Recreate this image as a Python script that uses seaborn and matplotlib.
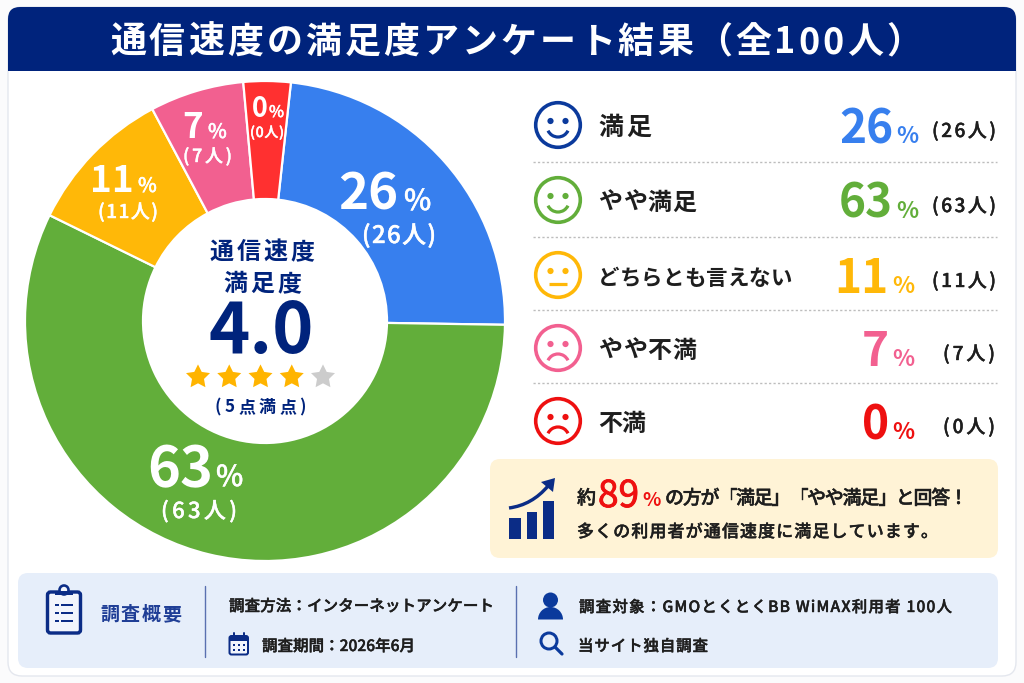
import matplotlib
matplotlib.use("Agg")
import matplotlib.pyplot as plt
import matplotlib.patheffects as pe
import seaborn as sns
import numpy as np
from matplotlib import font_manager as fm
from matplotlib.font_manager import FontProperties, get_font
from matplotlib.ft2font import LoadFlags
from matplotlib.patches import FancyBboxPatch, Circle, Arc, Rectangle, Polygon, PathPatch, Wedge
from matplotlib.path import Path

# Survey results
categories = ["満足", "やや満足", "どちらとも言えない", "やや不満", "不満"]
percentages = [26, 63, 11, 7, 0]
respondents = [26, 63, 11, 7, 0]
# A zero answer still keeps a thin wedge so the category stays visible on the ring
minimum_wedge = 3.5
average_score = 4.0
stars_filled = 4
stars_total = 5
satisfied_total = 89

hex_colors = ["#377FEE", "#62AE3A", "#FFB808", "#F26090", "#FF3030"]
row_colors = ["#377FEE", "#62AE3A", "#FFB808", "#F26090", "#EE1010"]
face_colors = ["#0B3A9C", "#62AE3A", "#FFB808", "#F26090", "#EE1010"]
NAVY = "#00237C"
INK = "#1E1E1E"

sns.set_theme(style="white")
palette = sns.color_palette(hex_colors)
CJK = "Noto Sans CJK JP"
plt.rcParams["font.family"] = [CJK, "DejaVu Sans"]

W, H = 1024, 683
fig = plt.figure(figsize=(W / 100, H / 100), dpi=100, facecolor="#FBFBFC")


def px(size):
    return size * 0.72


back = fig.add_axes([0, 0, 1, 1], zorder=0)
back.set_xlim(0, W)
back.set_ylim(H, 0)
back.axis("off")

front = fig.add_axes([0, 0, 1, 1], zorder=5)
front.set_xlim(0, W)
front.set_ylim(H, 0)
front.axis("off")
front.patch.set_alpha(0)


def rounded(ax, x0, y0, x1, y1, r, face, edge="none", lw=0, z=1):
    patch = FancyBboxPatch((x0, y0), x1 - x0, y1 - y0,
                           boxstyle=f"round,pad=0,rounding_size={r}",
                           facecolor=face, edgecolor=edge, linewidth=lw, zorder=z)
    ax.add_patch(patch)
    return patch


def advance(ch, size, weight):
    font = get_font(fm.findfont(FontProperties(family=CJK, weight=weight)))
    font.set_size(px(size), 100)
    glyph = font.load_char(ord(ch), flags=LoadFlags.NO_HINTING)
    return glyph.linearHoriAdvance / 65536


def spaced(x0, x1, base, s, size, color=INK, weight="medium", ax=None):
    """Set a string glyph by glyph so it fills the span x0..x1.

    The medium weight is the regular face with a hairline outline.
    """
    ax = ax or front
    widths = [advance(c, size, weight) for c in s]
    gap = (x1 - x0 - sum(widths)) / max(len(s) - 1, 1)
    x = x0
    effects = [pe.withStroke(linewidth=0.3, foreground=color)] if weight == "medium" else None
    for c, w in zip(s, widths):
        ax.text(x, base, c, fontsize=px(size), color=color, weight=weight,
                ha="left", va="baseline", zorder=10, path_effects=effects)
        x += w + gap


# Page card and header band
rounded(back, 8, 7, 1016, 676, 14, "white", "#E4E7EE", 1.0)
rounded(back, 8, 7, 1016, 50, 12, NAVY, z=2)
back.add_patch(Rectangle((8, 30), 1008, 41, color=NAVY, lw=0, zorder=2))
spaced(110, 922, 53, "通信速度の満足度アンケート結果（全100人）", 36, "white", "bold")

# Donut
cx, cy, R, r_in = 265, 321, 240, 122
pie_ax = fig.add_axes([(cx - R) / W, 1 - (cy + R) / H, 2 * R / W, 2 * R / H], zorder=2)
wedge_sizes = [max(p, minimum_wedge) for p in percentages]
pie_ax.pie(wedge_sizes, colors=palette, startangle=83.8, counterclock=False, radius=1,
           wedgeprops=dict(width=(R - r_in) / R, edgecolor="white", linewidth=1.6))
pie_ax.set_xlim(-1, 1)
pie_ax.set_ylim(-1, 1)

# Labels on the ring: number right edge, baseline, size; percent size and offset; count span, baseline, size
ring_layout = [
    (398, 210, 51, 29, 6, (362, 436), 243, 24),
    (213, 486, 56, 29, 3, (161, 237), 518, 22),
    (134, 192, 37, 20, 4, (98, 158), 218, 19),
    (203, 138, 35, 20, 5, (183, 232), 162, 18),
    (268, 117, 27, 16, 1, (250, 284), 137, 14),
]
for pct, cnt, lay in zip(percentages, respondents, ring_layout):
    xr, base, s1, s2, off, span, base2, s3 = lay
    front.text(xr, base, str(pct), fontsize=px(s1), color="white", weight="bold",
               ha="right", va="baseline")
    spaced(xr + off, xr + off + s2 * 0.9, base, "%", s2, "white")
    spaced(span[0], span[1], base2, f"({cnt}人)", s3, "white")

# Score in the hole
spaced(210, 314, 259, "通信速度", 24, NAVY, "bold")
spaced(223, 301, 291, "満足度", 24, NAVY, "bold")
front.text(261, 353, f"{average_score:.1f}", fontsize=px(70), color=NAVY, weight="bold",
           ha="center", va="baseline")
star_x = np.linspace(198, 323, stars_total)
star_colors = ["#FFB400" if i < stars_filled else "#CCCCCC" for i in range(stars_total)]
front.scatter(star_x, [377] * stars_total, marker=Path.unit_regular_star(5, innerCircle=0.5),
              s=330, c=star_colors, linewidths=0)
spaced(215, 306, 412, "(5点満点)", 17, NAVY, "bold")

# Answer rows on the right
row_y = [125, 200, 275, 348, 421]
label_end = [651, 696, 792, 696, 645]
label_size = [25, 24, 21.5, 24, 24]
number_end = [893, 893, 889, 889, 889]
count_span = [(932, 996), (932, 996), (932, 996), (943, 995), (943, 995)]
face_mouth = ["smile", "smile", "flat", "frown", "frown"]

for i, (name, pct, cnt) in enumerate(zip(categories, percentages, respondents)):
    y = row_y[i]
    col = face_colors[i]
    front.add_patch(Circle((558, y), 22.3, fill=False, edgecolor=col, lw=px(3.6)))
    for dx in (-7.5, 7.5):
        front.add_patch(Circle((558 + dx, y - 4), 3.1, color=col, lw=0))
    if face_mouth[i] == "smile":
        front.add_patch(Arc((558, y + 1), 22, 22, theta1=25, theta2=155, color=col, lw=px(3.2)))
    elif face_mouth[i] == "frown":
        front.add_patch(Arc((558, y + 17), 22, 22, theta1=205, theta2=335, color=col, lw=px(3.2)))
    else:
        front.plot([549, 567], [y + 9, y + 9], color=col, lw=px(3.2), solid_capstyle="butt")
    spaced(598, label_end[i], y + 10, name, label_size[i], INK, "bold")
    xe = number_end[i]
    front.text(xe, y + 18, str(pct), fontsize=px(46), color=row_colors[i], weight="bold",
               ha="right", va="baseline")
    front.text(xe + 3, y + 18, "%", fontsize=px(23), color=row_colors[i], weight="bold",
               ha="left", va="baseline")
    spaced(count_span[i][0], count_span[i][1], y + 12, f"({cnt}人)", 19, INK)

for y in [162, 237, 310, 383]:
    front.plot([533, 997], [y, y], color="#BDBDBD", lw=1.0, ls=(0, (1.6, 1.6)))

# Highlight panel
rounded(back, 490, 459, 998, 558, 10, "#FFF3D6")
for x0, x1, top in [(509, 521, 518), (527, 537, 512), (543, 554, 501)]:
    front.add_patch(Rectangle((x0, top), x1 - x0, 539 - top, color="#0B2C86", lw=0))
front.add_patch(PathPatch(Path([(509, 508), (532, 505), (548, 486)],
                               [Path.MOVETO, Path.CURVE3, Path.CURVE3]),
                          fill=False, edgecolor="#0B2C86", lw=px(3.4)))
front.add_patch(Polygon([(555, 478), (541, 482), (553, 492)], color="#0B2C86", lw=0))
spaced(577, 596, 504, "約", 19, INK)
front.text(598, 507, str(satisfied_total), fontsize=px(37), color="#EE1010", weight="regular",
           ha="left", va="baseline",
           path_effects=[pe.withStroke(linewidth=0.6, foreground="#EE1010")])
front.text(642, 506, "%", fontsize=px(19), color="#EE1010", weight="bold", ha="left", va="baseline")
spaced(665, 968, 504, "の方が「満足」「やや満足」と回答！", 19, INK)
spaced(577, 938, 537, "多くの利用者が通信速度に満足しています。", 17, INK)

# Survey outline strip
rounded(back, 18, 573, 998, 668, 10, "#E6EEFA")
rounded(front, 47.5, 592, 80.5, 633, 3, "#F2F5FC", "#0B2C86", px(3.4))
front.add_patch(Circle((64, 590), 4.5, facecolor="#F2F5FC", edgecolor="#0B2C86", lw=px(2.6)))
front.add_patch(Rectangle((55, 591), 18, 4, color="#0B2C86", lw=0))
for y in [605, 613, 621]:
    front.add_patch(Rectangle((55, y - 1), 4, 2.4, color="#0B2C86", lw=0))
    front.add_patch(Rectangle((61, y - 1), 12, 2.4, color="#0B2C86", lw=0))
spaced(100, 181, 620, "調査概要", 19, "#1F3E96", "bold")

for x in (205, 516):
    front.plot([x, x], [586, 657], color="#5A70B0", lw=1.0)

spaced(229, 494, 611, "調査方法：インターネットアンケート", 15.5, INK)
rounded(front, 229.5, 636, 248, 654.5, 2, "#F2F5FC", "#0B2C86", px(2))
front.add_patch(Rectangle((229.5, 636), 18.5, 5, color="#0B2C86", lw=0))
for x in (234, 244):
    front.plot([x, x], [632.5, 637], color="#0B2C86", lw=px(2))
for gy in (645, 650):
    for gx in (234, 239, 244):
        front.add_patch(Rectangle((gx - 1, gy - 1), 2, 2, color="#0B2C86", lw=0))
spaced(262, 415, 651, "調査期間：2026年6月", 15.5, INK)

front.add_patch(Circle((550.5, 600), 7.5, color="#0B3A9C", lw=0))
front.add_patch(Wedge((550.5, 619.5), 12.5, 180, 360, color="#0B3A9C", lw=0))
spaced(579, 952, 612, "調査対象：GMOとくとくBB WiMAX利用者 100人", 15.5, INK)
front.add_patch(Circle((549, 641), 8, fill=False, edgecolor="#0B3A9C", lw=px(3)))
front.plot([555, 562], [647, 654], color="#0B3A9C", lw=px(3.2))
spaced(578, 708, 651, "当サイト独自調査", 15.5, INK)

fig.savefig("out.png", dpi=100, facecolor=fig.get_facecolor())
